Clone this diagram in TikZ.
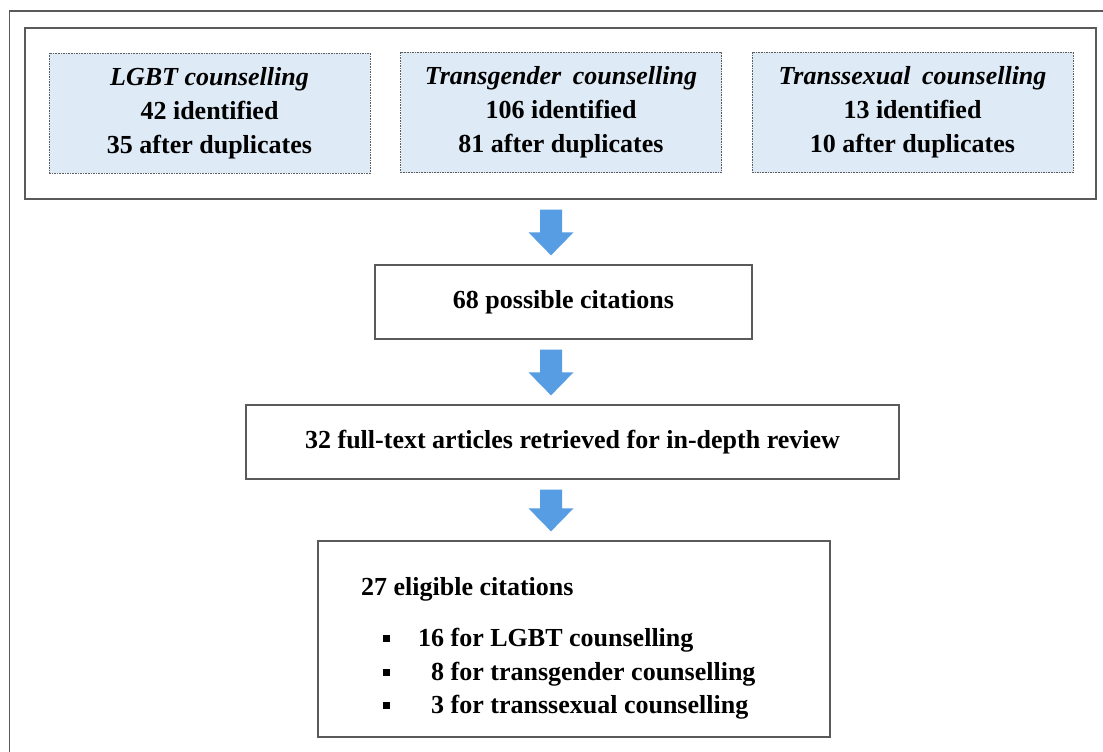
\documentclass[tikz,border=0pt]{standalone}
\usepackage{fontspec}
\setmainfont{Liberation Serif}
\usetikzlibrary{calc}
\definecolor{boxline}{HTML}{5A5A5A}
\definecolor{dashline}{HTML}{5E5E5E}
\definecolor{lightfill}{HTML}{DEEAF6}
\definecolor{arrowblue}{HTML}{569DE3}
\tikzset{
  bigfont/.style={font=\fontsize{26}{34}\selectfont\bfseries},
  plainbox/.style={draw=boxline, line width=1.3pt, fill=white, inner sep=0pt, bigfont, align=center},
  dashbox/.style={draw=dashline, line width=0.9pt, dash pattern=on 1.6pt off 1pt, fill=lightfill,
     inner sep=0pt, minimum width=321pt, minimum height=120pt, bigfont, align=center},
  frameline/.style={draw=boxline, line width=1.2pt},
  leftline/.style={bigfont, anchor=west, inner sep=0pt},
  bulletsq/.style={fill=black, inner sep=0pt, minimum size=7pt},
}
\newcommand{\blockarr}[2]{%
  \fill[arrowblue] ($(#1.south -| ax)+(-11,10)$) -- ($(#1.south -| ax)+(11,10)$)
    -- ($(#2.north -| ax)+(11,-32)$) -- ($(#2.north -| ax)+(22.5,-32)$)
    -- ($(#2.north -| ax)+(0,-9)$) -- ($(#2.north -| ax)+(-22.5,-32)$)
    -- ($(#2.north -| ax)+(-11,-32)$) -- cycle;}
\begin{document}
\begin{tikzpicture}[x=1pt,y=-1pt]
\useasboundingbox (0,0) rectangle (1103,752);
\fill[white] (0,0) rectangle (1103,752);
% outer frame (only top and left visible)
\draw[frameline] (1103,11) -- (9.5,11) -- (9.5,752);
\coordinate (ax) at (551,0);
% top container
\node[plainbox, minimum width=1071pt, minimum height=171pt] (top) at (560.5,113.5) {};
\node[dashbox] (lgbt) at (209.5,113) {\textit{LGBT counselling}\\42 identified\\35 after duplicates};
\node[dashbox] (tg) at (561,112.5) {\textit{Transgender\hspace{0.45em}counselling}\\106 identified\\81 after duplicates};
\node[dashbox] (ts) at (912.5,112.5) {\textit{Transsexual\hspace{0.45em}counselling}\\13 identified\\10 after duplicates};
% flow boxes
\node[plainbox, minimum width=377pt, minimum height=74pt] (poss) at (563.5,302) {\raisebox{-3pt}{68 possible citations}};
\node[plainbox, minimum width=653pt, minimum height=74pt] (full) at (572.5,442) {\raisebox{-3pt}{32 full-text articles retrieved for in-depth review}};
\node[plainbox, minimum width=512pt, minimum height=196pt] (elig) at (574,639) {};
\node[leftline] (e0) at (361,589) {27 eligible citations};
\node[bulletsq] (b1) at (386,638) {};
\node[bulletsq] (b2) at (386,672) {};
\node[bulletsq] (b3) at (386,705) {};
\node[leftline] (e1) at (418,640) {16 for LGBT counselling};
\node[leftline] (e2) at (418,674) {\phantom{1}8 for transgender counselling};
\node[leftline] (e3) at (418,707) {\phantom{1}3 for transsexual counselling};
% block arrows
\blockarr{top}{poss}
\blockarr{poss}{full}
\blockarr{full}{elig}
\end{tikzpicture}
\end{document}
